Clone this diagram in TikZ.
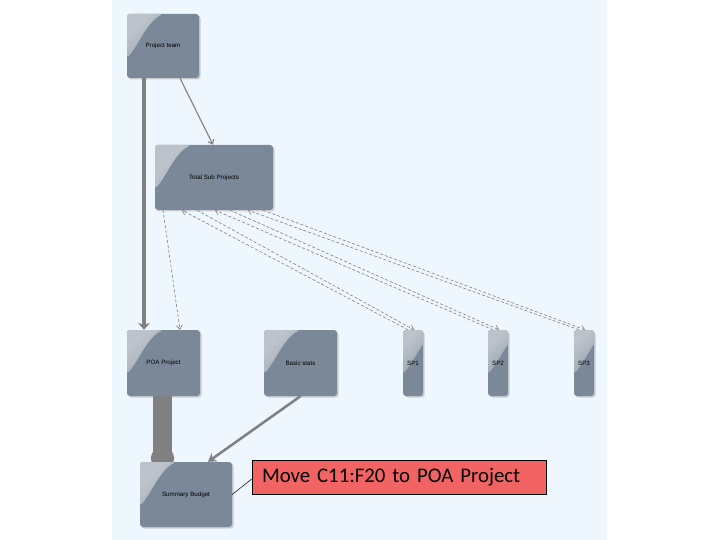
\documentclass[tikz,border=0pt]{standalone}
\usepackage{fontspec}
\newfontfamily\boxfont{Liberation Sans}
\newfontfamily\notefont{Carlito}
\usetikzlibrary{arrows.meta,shadows,positioning}
\definecolor{panelcol}{HTML}{EEF6FE}
\definecolor{boxcol}{HTML}{7A8898}
\definecolor{linkcol}{HTML}{808080}
\definecolor{notecol}{HTML}{F26464}
\pgfdeclarelayer{panel}
\pgfdeclarelayer{edges}
\pgfsetlayers{panel,edges,main}
\tikzset{
  >={Straight Barb[length=4pt,width=6pt]},
  tbox/.style={rounded corners=3pt, inner sep=0pt, text=black, fill=boxcol,
               font=\boxfont\fontsize{6.2}{7}\selectfont,
               drop shadow={opacity=0.35, shadow xshift=1.5pt, shadow yshift=-1.5pt},
               path picture={
                 \shade[left color=white!50!boxcol, right color=boxcol, shading angle=45]
                   (path picture bounding box.north west) -- ++(36pt,0pt)
                   .. controls ++(-16pt,-8pt) and ++(12pt,14pt) .. ++(-36pt,-44pt) -- cycle;}},
  link/.style={draw=linkcol, line width=1.1pt, ->},
  dlink/.style={draw=linkcol, line width=0.6pt, densely dashed, ->},
  note/.style={draw=black, line width=0.6pt, fill=notecol, text width=274pt,
               align=left, inner xsep=10pt, minimum height=34pt,
               font=\notefont\fontsize{20.8}{22}\selectfont}
}
\begin{document}
\begin{tikzpicture}[x=1pt,y=-1pt]
  \useasboundingbox (0,0) rectangle (720,540);
  \begin{pgfonlayer}{panel}
    \fill[white] (0,0) rectangle (720,540);
    \fill[panelcol] (112,0) rectangle (607,540);
  \end{pgfonlayer}

  % Boxes.
  \node[tbox, minimum width=72pt, minimum height=64pt] (team) at (163,46) {Project team};
  \node[tbox, minimum width=118pt, minimum height=65pt] (tsp) at (214,177.5) {Total Sub Projects};
  \node[tbox, minimum width=73pt, minimum height=66pt] (poa) at (163.5,363) {POA Project};
  \node[tbox, minimum width=73pt, minimum height=66pt] (basic) at (300.5,363) {Basic stats};
  \node[tbox, minimum width=20pt, minimum height=66pt] (sp1) at (413,363) {SP1};
  \node[tbox, minimum width=20pt, minimum height=66pt] (sp2) at (498,363) {SP2};
  \node[tbox, minimum width=20pt, minimum height=66pt] (sp3) at (584,363) {SP3};
  \node[tbox, minimum width=92pt, minimum height=65pt] (summ) at (186,494.5) {Summary Budget};

  % Note.
  \node[note] (move) at (399,477) {Move C11:F20 to POA Project};
  \draw[line width=0.5pt] (summ.east) -- ([yshift=-2pt]move.west);

  \begin{pgfonlayer}{edges}
    % Top links.
    \draw[draw=linkcol, line width=4pt, -{Stealth[length=7pt,width=12pt]}]
      ([xshift=-19pt]team.south) -- ([xshift=-19.5pt]poa.north);
    \draw[link] ([xshift=17pt]team.south) -- ([xshift=-1pt]tsp.north);
    \draw[dlink] ([xshift=-51pt]tsp.south) -- ([xshift=16.5pt]poa.north);

    % Sub projects back and forth.
    \draw[dlink] ([xshift=-5pt]sp1.north) -- ([xshift=-32pt]tsp.south);
    \draw[dlink] ([xshift=-17pt]tsp.south) -- ([xshift=1pt]sp1.north);
    \draw[dlink] ([xshift=-5pt]sp2.north) -- ([xshift=1pt]tsp.south);
    \draw[dlink] ([xshift=16pt]tsp.south) -- ([xshift=1pt]sp2.north);
    \draw[dlink] ([xshift=-5pt]sp3.north) -- ([xshift=34pt]tsp.south);
    \draw[dlink] ([xshift=49pt]tsp.south) -- ([xshift=1pt]sp3.north);

    % Into the budget.
    \draw[draw=linkcol, line width=19pt, -{Circle[length=23pt,width=23pt]}]
      ([xshift=-1pt]poa.south) -- ([xshift=-23.5pt,yshift=-8pt]summ.north);
    \draw[draw=linkcol, line width=2.5pt, -{Stealth[length=8pt,width=10pt]}]
      (basic.south) -- ([xshift=22pt]summ.north);
  \end{pgfonlayer}
\end{tikzpicture}
\end{document}
